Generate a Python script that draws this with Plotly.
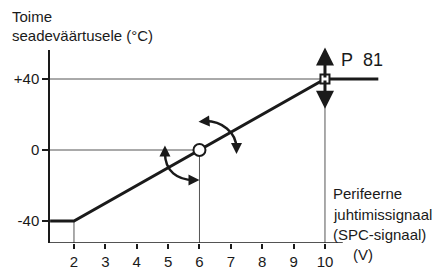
import plotly.graph_objects as go

# data
curve_x = [1.24, 2, 10, 11.7]
curve_y = [-40, -40, 40, 40]
x_ticks = [2, 3, 4, 5, 6, 7, 8, 9, 10]
y_ticks = [-40, 0, 40]
y_ticktext = ["-40", "0", "+40"]
mid_pt = (6, 0)
p81_pt = (10, 40)

XMIN, XMAX = 1.236, 11.913
YMIN, YMAX = -52.39, 56.34
XAX_END = 10.567

FONT = "Liberation Sans, Arial, sans-serif"
INK = "#1a1a1a"
thin = dict(color="#555555", width=1)

fig = go.Figure()

# guide lines
fig.add_trace(go.Scatter(x=[XMIN, p81_pt[0]], y=[p81_pt[1], p81_pt[1]], mode="lines", line=thin, hoverinfo="skip"))
fig.add_trace(go.Scatter(x=[XMIN, mid_pt[0]], y=[mid_pt[1], mid_pt[1]], mode="lines", line=thin, hoverinfo="skip"))
for gx, gy in [(curve_x[1], curve_y[1]), mid_pt, p81_pt]:
    fig.add_trace(go.Scatter(x=[gx, gx], y=[gy, YMIN], mode="lines", line=thin, hoverinfo="skip"))

# main curve
fig.add_trace(go.Scatter(x=curve_x, y=curve_y, mode="lines",
                         line=dict(color=INK, width=3), hoverinfo="skip"))

# curved arrows (arcs)
fig.add_shape(type="path", path="M 4.90,-1.7 C 4.90,-12 5.3,-16.9 5.82,-16.9",
              line=dict(color=INK, width=2.5), xref="x", yref="y")
fig.add_shape(type="path", path="M 6.15,16.3 C 6.7,16.6 7.18,10 7.18,0.8",
              line=dict(color=INK, width=2.5), xref="x", yref="y")

# x axis line (drawn only to its reference length)
fig.add_shape(type="line", x0=XMIN, x1=XAX_END, y0=YMIN, y1=YMIN,
              line=dict(color=INK, width=1.5), xref="x", yref="y")

def arrow(x, y, ax, ay, w=2, s=1.0):
    fig.add_annotation(x=x, y=y, ax=ax, ay=ay, xref="x", yref="y", axref="x", ayref="y",
                       text="", showarrow=True, arrowhead=2, arrowsize=s, arrowwidth=w,
                       arrowcolor=INK, standoff=0, startstandoff=0)

# small arrowheads for arcs
arrow(4.90, 2.6, 4.90, -1.0, 2, 1.1)
arrow(6.0, -16.9, 5.7, -16.9, 2, 1.1)
arrow(5.97, 15.9, 6.25, 16.3, 2, 1.1)
arrow(7.18, -2.2, 7.18, 1.5, 2, 1.1)

# P81 arrows
arrow(p81_pt[0], 57.8, p81_pt[0], p81_pt[1], 3, 1.2)
arrow(p81_pt[0], 23.2, p81_pt[0], p81_pt[1], 3, 1.2)

# markers
fig.add_trace(go.Scatter(x=[mid_pt[0]], y=[mid_pt[1]], mode="markers",
                         marker=dict(symbol="circle", size=12, color="white",
                                     line=dict(color=INK, width=2)), hoverinfo="skip"))
fig.add_trace(go.Scatter(x=[p81_pt[0]], y=[p81_pt[1]], mode="markers",
                         marker=dict(symbol="square", size=9, color="white",
                                     line=dict(color=INK, width=2)), hoverinfo="skip"))

L, R, T, B = 50, 50, 50, 27
W, H = 435 - L - R, 270 - T - B

def ptext(px, py, text, size=15):
    fig.add_annotation(x=(px - L) / W, y=1 - (py - T) / H, xref="paper", yref="paper",
                       text=text, showarrow=False, xanchor="left", yanchor="middle",
                       font=dict(family=FONT, size=size, color=INK), borderpad=0)

ptext(11, 16, "Toime")
ptext(11, 36, "seadeväärtusele (°C)")
ptext(332, 193, "Perifeerne")
ptext(332, 214, "juhtimissignaal")
ptext(332, 234, "(SPC-signaal)")
ptext(352, 254, "(V)")
ptext(340, 60, "P\u00a0\u00a081", size=18)

fig.update_layout(
    width=435, height=270, margin=dict(l=L, r=R, t=T, b=B, autoexpand=False),
    plot_bgcolor="white", paper_bgcolor="white", showlegend=False,
    font=dict(family=FONT, size=15, color=INK),
    xaxis=dict(range=[XMIN, XMAX], tickvals=x_ticks, showgrid=False, zeroline=False,
               showline=False, ticks="outside", ticklen=5, tickwidth=1.5,
               tickcolor=INK, fixedrange=True, automargin=False),
    yaxis=dict(range=[YMIN, YMAX], tickvals=y_ticks, ticktext=y_ticktext, showgrid=False,
               zeroline=False, showline=True, linecolor=INK, linewidth=1.5,
               ticks="outside", ticklen=6, tickwidth=1.5, tickcolor=INK, fixedrange=True,
               automargin=False),
)

fig.write_html("out.html", config={"displayModeBar": False},
               post_script="document.body.style.margin='0';")
